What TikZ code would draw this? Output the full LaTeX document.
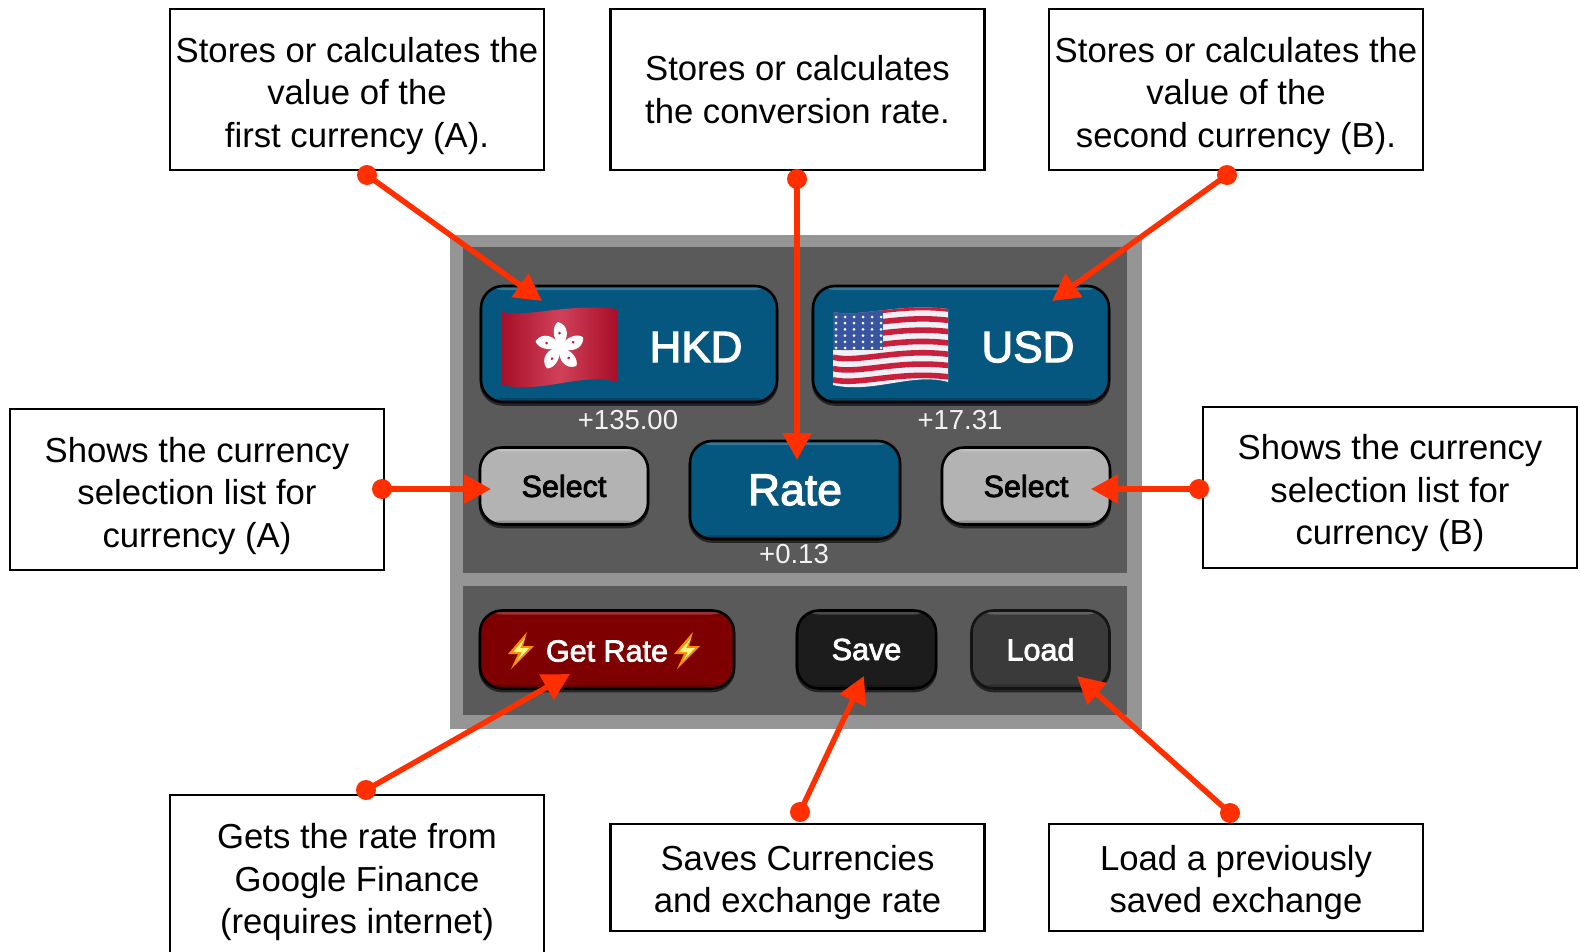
\documentclass[tikz,border=0pt]{standalone}
\usepackage{fontspec}
\setmainfont{Liberation Sans}
\newfontfamily\btnfont[FakeBold=2.5]{Liberation Sans}
\usetikzlibrary{arrows.meta}

\definecolor{paneledge}{HTML}{959595}
\definecolor{paneldark}{HTML}{5A5A5A}
\definecolor{btnblue}{HTML}{06577F}
\definecolor{btngray}{HTML}{B3B3B3}
\definecolor{btnred}{HTML}{7F0000}
\definecolor{btnblack}{HTML}{1C1C1C}
\definecolor{btnload}{HTML}{3A3A3A}
\definecolor{callred}{HTML}{FF2F00}
\definecolor{flagred}{HTML}{C8203C}
\definecolor{flagdark}{HTML}{A80E28}
\definecolor{flagblue}{HTML}{3A55A0}

\tikzset{
  note/.style={draw=black, line width=2.4pt, fill=white, minimum width=374pt, align=center,
    inner sep=0pt, font=\fontsize{34.7}{42.5}\selectfont},
  button/.style={draw=black, line width=2.6pt, rounded corners=22pt, inner sep=0pt, align=center,
    preaction={draw=black!60!paneldark, line width=2.6pt, transform canvas={yshift=-2.5pt}},
    path picture={
      \fill[white, opacity=0.2] ([yshift=-4pt]path picture bounding box.north west) rectangle (path picture bounding box.north east);
      \fill[black, opacity=0.2] ([yshift=4pt]path picture bounding box.south west) rectangle (path picture bounding box.south east);
    }},
  big/.style={text=white, font=\btnfont\fontsize{44}{44}\selectfont},
  small/.style={font=\btnfont\fontsize{30.5}{31}\selectfont},
  value/.style={text=white!95!black, inner sep=0pt, font=\fontsize{27.5}{28}\selectfont},
  dot/.style={circle, fill=callred, minimum size=20pt, inner sep=0pt},
  call/.style={draw=callred, line width=5.5pt, -{Triangle[length=27pt,width=28pt]}},
  bolt/.pic={
    \fill[orange!90!yellow] (19,0) -- (0,22) -- (10,22) -- (3,37) -- (26,14) -- (15,14) -- cycle;
    \fill[yellow!50!white] (17,6) -- (5,20) -- (14,20) -- (9,29) -- (21,16) -- (12,16) -- cycle;
  }
}

\newcommand{\flagoutline}{(0,312) .. controls (25,318) and (65,303) .. (115,309) -- (115,382) .. controls (80,372) and (40,394) .. (0,385) -- cycle}
\newcommand{\topgap}[1]{\rule{0pt}{#1pt}}

\begin{document}
\begin{tikzpicture}[x=1pt, y=-1pt]
\useasboundingbox (0,0) rectangle (1580,951);
\clip (0,0) rectangle (1580,951);

% panel
\fill[paneledge] (450,235) rectangle (1142,729);
\fill[paneldark] (463,247) rectangle (1127,573);
\fill[paneldark] (463,586) rectangle (1127,715);

% buttons
\node[button, fill=btnblue, minimum width=296pt, minimum height=116pt] (hkd) at (629,344) {};
\node[button, fill=btnblue, minimum width=296pt, minimum height=116pt] (usd) at (961,344) {};
\node[button, fill=btngray, minimum width=168pt, minimum height=77pt, small, text=black] (selecta) at (564,486) {Select};
\node[button, fill=btnblue, minimum width=210pt, minimum height=98pt, big, font=\btnfont\fontsize{44.5}{45}\selectfont] (rate) at (795,490) {Rate};
\node[button, fill=btngray, minimum width=168pt, minimum height=77pt, small, text=black] (selectb) at (1026,486) {Select};
\node[button, fill=btnred, minimum width=254pt, minimum height=78pt] (getrate) at (607,649.5) {};
\node[button, fill=btnblack, minimum width=139pt, minimum height=78pt, small, text=white] (save) at (866.5,649.5) {Save};
\node[button, fill=btnload, draw=black!65!btnload, minimum width=138pt, minimum height=78pt, small, text=white] (load) at (1040.5,649.5) {Load};

\node[big, inner sep=0pt] (hkdtext) at (696,347) {HKD};
\node[big, inner sep=0pt] (usdtext) at (1028,347) {USD};
\node[small, text=white, inner sep=0pt] (getratetext) at (607,651) {Get Rate};
\pic at (508,632) {bolt};
\pic at (674,632) {bolt};

\node[value] (hkdvalue) at (628,420) {+135.00};
\node[value] (usdvalue) at (960,420) {+17.31};
\node[value] (ratevalue) at (794,554) {+0.13};

% flags
\begin{scope}[shift={(502,0)}]
\shade[left color=flagdark, right color=flagdark, middle color=flagred!85!white] \flagoutline;
\foreach \a in {0,72,144,216,288} {
  \fill[white, rotate around={\a:(58,347)}] (58,347) .. controls (50,338) and (50,326) .. (56,322) .. controls (67,325) and (68,339) .. (58,347);
  \fill[flagred, rotate around={\a:(58,347)}] (57.5,333) circle (1.5pt);
}
\end{scope}

\begin{scope}[shift={(833,0)}]
\fill[white!92!flagblue] \flagoutline;
\clip \flagoutline;
\foreach \i in {0,...,6} {
  \draw[flagred, line width=5.6pt, shift={(0,\i*11.3)}] (0,312) .. controls (25,318) and (65,303) .. (115,309);
}
\fill[flagblue] (0,300) rectangle (50,350);
\foreach \i in {0,...,5} {
  \foreach \j in {0,...,5} {
    \fill[white] (3+\i*9,317+\j*6.2) circle (1.5pt);
  }
}
\end{scope}

% notes
\node[note, minimum height=161pt] (notea) at (357,89.5) {\topgap{38}Stores or calculates the\\value of the\\first currency (A).};
\node[note, minimum height=161pt] (noterate) at (797.5,89.5) {Stores or calculates\\the conversion rate.};
\node[note, minimum height=161pt] (noteb) at (1236,89.5) {\topgap{38}Stores or calculates the\\value of the\\second currency (B).};
\node[note, minimum height=161pt] (noteselecta) at (197,489.5) {\topgap{38}Shows the currency\\selection list for\\currency (A)};
\node[note, minimum height=161pt] (noteselectb) at (1390,487.5) {\topgap{37}Shows the currency\\selection list for\\currency (B)};
\node[note, minimum height=170pt] (notegetrate) at (357,880) {\topgap{30}Gets the rate from\\Google Finance\\(requires internet)};
\node[note, minimum height=107pt] (notesave) at (797.5,877.5) {\topgap{35}Saves Currencies\\and exchange rate};
\node[note, minimum height=107pt] (noteload) at (1236,877.5) {\topgap{35}Load a previously\\saved exchange};

% callouts
\node[dot] (dota) at (367,175) {};
\node[dot] (dotrate) at (797,179) {};
\node[dot] (dotb) at (1227,175) {};
\node[dot] (dotselecta) at (382,489) {};
\node[dot] (dotselectb) at (1199,489) {};
\node[dot] (dotgetrate) at (366,790) {};
\node[dot] (dotsave) at (800,812) {};
\node[dot] (dotload) at (1230,813) {};

\coordinate (tipa) at (542,301);
\coordinate (tiprate) at (797,460);
\coordinate (tipb) at (1052,301);
\coordinate (tipselecta) at (491,489);
\coordinate (tipselectb) at (1091,489);
\coordinate (tipgetrate) at (570,674);
\coordinate (tipsave) at (864,676);
\coordinate (tipload) at (1077,676);

\draw[call] (dota.center) -- (tipa);
\draw[call] (dotrate.center) -- (tiprate);
\draw[call] (dotb.center) -- (tipb);
\draw[call] (dotselecta.center) -- (tipselecta);
\draw[call] (dotselectb.center) -- (tipselectb);
\draw[call] (dotgetrate.center) -- (tipgetrate);
\draw[call] (dotsave.center) -- (tipsave);
\draw[call] (dotload.center) -- (tipload);

\end{tikzpicture}
\end{document}
